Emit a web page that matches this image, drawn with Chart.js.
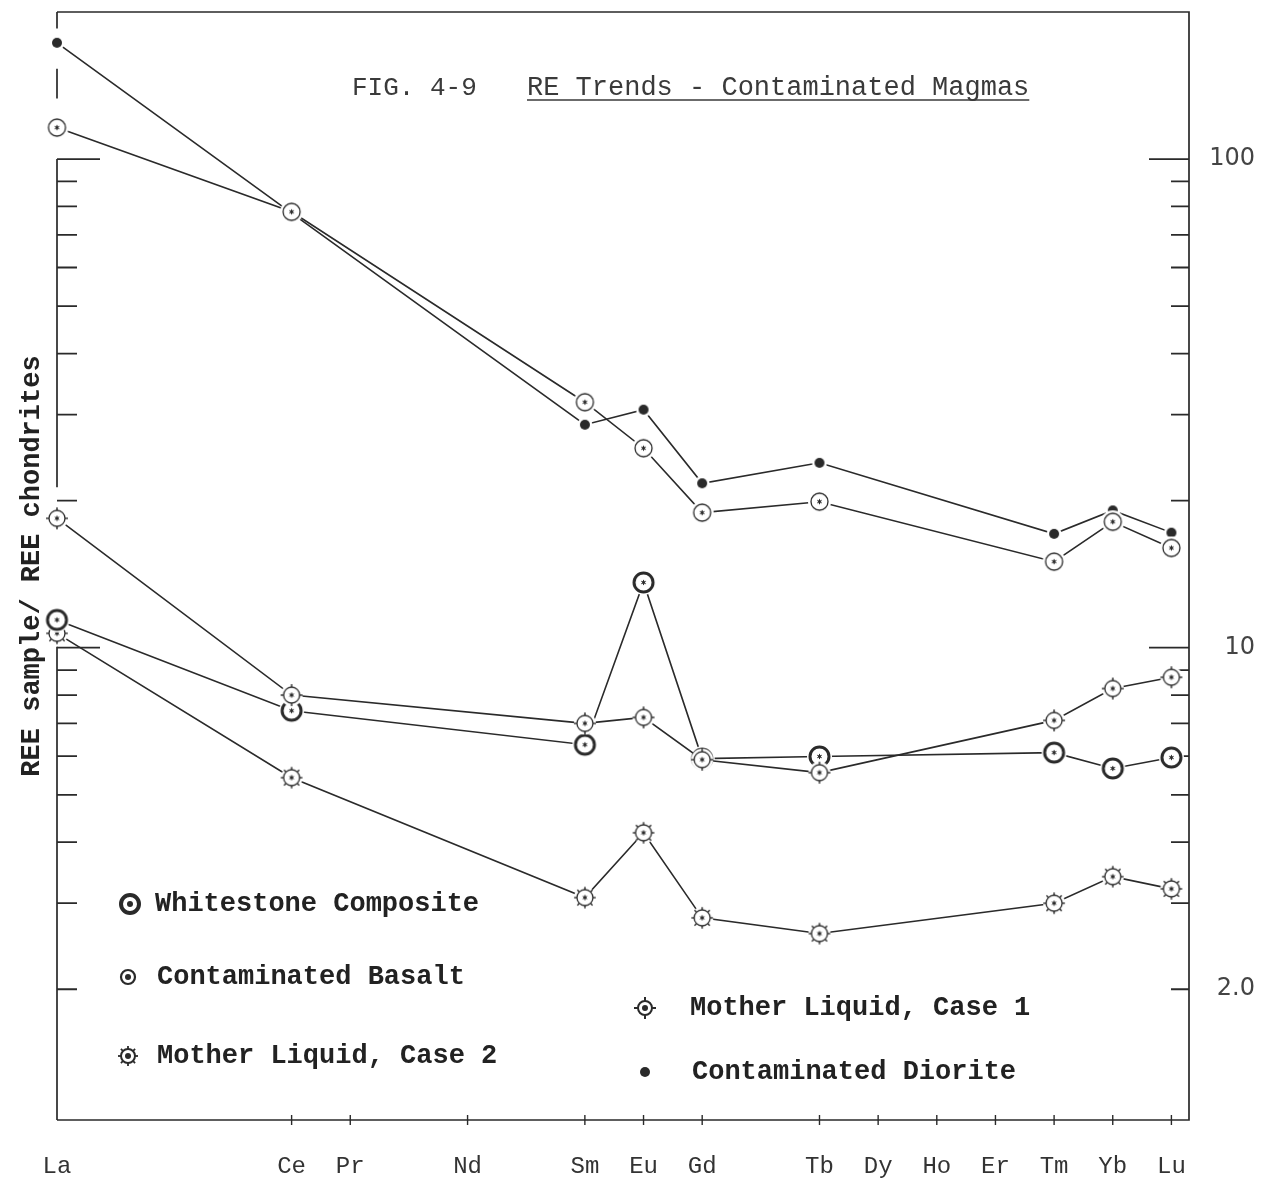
<!DOCTYPE html>
<html>
<head>
<meta charset="utf-8">
<title>RE Trends - Contaminated Magmas</title>
<script src="https://cdn.jsdelivr.net/npm/chart.js@4.4.1/dist/chart.umd.min.js"></script>
<style>
  html, body { margin: 0; padding: 0; background: #fff; }
  canvas { display: block; }
</style>
</head>
<body>
<canvas id="ree" width="1278" height="1186"></canvas>
<script>
// Slots along the horizontal axis; empty strings are spacing slots without a tick
const axisSlots = ['La', '', '', '', 'Ce', 'Pr', '', 'Nd', '', 'Sm', 'Eu', 'Gd', '', 'Tb', 'Dy', 'Ho', 'Er', 'Tm', 'Yb', 'Lu'];

// Elements that were analysed
const elements = ['La', 'Ce', 'Sm', 'Eu', 'Gd', 'Tb', 'Tm', 'Yb', 'Lu'];

// REE sample / REE chondrites
const contaminatedBasalt  = [116, 78, 31.8, 25.6, 18.9, 19.9, 15.0, 18.1, 16.0];
const contaminatedDiorite = [173, 77.5, 28.6, 30.7, 21.7, 23.9, 17.1, 19.1, 17.2];
const motherLiquidCase1   = [18.4, 8.0, 7.0, 7.2, 5.9, 5.55, 7.1, 8.25, 8.7];
const whitestoneComposite = [11.4, 7.43, 6.33, 13.6, 5.93, 5.99, 6.1, 5.66, 5.96];
const motherLiquidCase2   = [10.7, 5.42, 3.08, 4.18, 2.80, 2.60, 3.00, 3.40, 3.21];

// Logarithmic axis tick values and the labels printed on the right
const yTickValues = [2, 3, 4, 5, 6, 7, 8, 9, 10, 20, 30, 40, 50, 60, 70, 80, 90, 100];
const yTickLabels = { 100: '100', 10: '10', 2: '2.0' };

const INK = '#2a2a2a';
const TYPE = '"Liberation Mono", "Courier New", monospace';

// ---- marker symbols -------------------------------------------------------
function markerCanvas(r, halo, draw) {
  const size = Math.ceil((r + 7) * 2);
  const c = document.createElement('canvas');
  c.width = c.height = size;
  const g = c.getContext('2d');
  g.translate(size / 2, size / 2);
  if (halo) {
    g.fillStyle = '#fff';
    g.beginPath(); g.arc(0, 0, r + halo, 0, Math.PI * 2); g.fill();
  }
  g.strokeStyle = INK; g.fillStyle = INK;
  draw(g, r);
  return c;
}
function ring(g, r, w) { g.lineWidth = w; g.beginPath(); g.arc(0, 0, r, 0, Math.PI * 2); g.stroke(); }
function dot(g, r) { g.beginPath(); g.arc(0, 0, r, 0, Math.PI * 2); g.fill(); }
function spikes(g, r, n, len, w, start) {
  g.lineWidth = w;
  for (let i = 0; i < n; i++) {
    const a = (start || 0) + i * 2 * Math.PI / n;
    g.beginPath();
    g.moveTo(Math.cos(a) * r, Math.sin(a) * r);
    g.lineTo(Math.cos(a) * (r + len), Math.sin(a) * (r + len));
    g.stroke();
  }
}
function asterisk(g, r) { spikes(g, 0, 6, r, 1, Math.PI / 2); dot(g, r * 0.55); }

const symbols = {
  basalt:     markerCanvas(8.5, 3, (g, r) => { ring(g, r, 1.3); asterisk(g, 2.6); }),
  diorite:    markerCanvas(5, 2.5, (g, r) => { dot(g, r); }),
  case1:      markerCanvas(8, 3, (g, r) => { ring(g, r, 1.3); spikes(g, r, 4, 3, 1.4, -Math.PI / 2); asterisk(g, 2.6); }),
  whitestone: markerCanvas(9.5, 3, (g, r) => { ring(g, r, 3); asterisk(g, 2.6); }),
  case2:      markerCanvas(8, 3, (g, r) => { ring(g, r, 1.3); spikes(g, r, 8, 2.8, 1.4, -Math.PI / 2); asterisk(g, 2.6); })
};
const legendSymbols = {
  whitestone: markerCanvas(9, 0, (g, r) => { ring(g, r, 4); dot(g, 3); }),
  basalt:     markerCanvas(7, 0, (g, r) => { ring(g, r, 2.2); dot(g, 3); }),
  case2:      markerCanvas(7, 0, (g, r) => { ring(g, r, 2); spikes(g, r, 8, 3, 1.8, -Math.PI / 2); dot(g, 3); }),
  case1:      markerCanvas(7, 0, (g, r) => { ring(g, r, 2); spikes(g, r, 4, 4, 2, -Math.PI / 2); dot(g, 3); }),
  diorite:    markerCanvas(5, 0, (g, r) => { dot(g, r); })
};

// ---- datasets -------------------------------------------------------------
function toPoints(values) {
  return elements.map((el, i) => ({ x: axisSlots.indexOf(el), y: values[i] }));
}
function series(label, values, key, order) {
  return {
    label,
    data: toPoints(values),
    symbolKey: key,
    order,
    borderColor: INK,
    borderWidth: 1.6,
    pointStyle: symbols[key],
    pointRadius: 9,
    tension: 0,
    clip: false,
    yAxisID: 'y'
  };
}
const datasets = [
  series('Whitestone Composite', whitestoneComposite, 'whitestone', 1),
  series('Contaminated Basalt', contaminatedBasalt, 'basalt', 2),
  series('Mother Liquid, Case 2', motherLiquidCase2, 'case2', 3),
  series('Mother Liquid, Case 1', motherLiquidCase1, 'case1', 0),
  series('Contaminated Diorite', contaminatedDiorite, 'diorite', 4)
];

// ---- frame, inward ticks, title and legend ---------------------------------
const framePlugin = {
  id: 'frame',
  beforeDatasetsDraw(chart, args, opts) {
    const { ctx, chartArea: a, scales } = chart;
    const y = scales.y, x = scales.x;
    ctx.save();
    ctx.strokeStyle = INK;
    ctx.lineWidth = 1.7;
    ctx.beginPath();
    ctx.moveTo(a.left, a.top); ctx.lineTo(a.right, a.top);
    ctx.lineTo(a.right, a.bottom); ctx.lineTo(a.left, a.bottom);
    ctx.stroke();
    // left border is drawn in pieces
    ctx.beginPath();
    opts.leftSpans.forEach(([lo, hi]) => {
      ctx.moveTo(a.left, y.getPixelForValue(hi));
      ctx.lineTo(a.left, y.getPixelForValue(lo));
    });
    ctx.stroke();
    // inward tick marks on both vertical axes
    ctx.lineWidth = 1.8;
    yTickValues.forEach(v => {
      const py = y.getPixelForValue(v);
      const major = (v === 10 || v === 100);
      ctx.beginPath();
      ctx.moveTo(a.left, py); ctx.lineTo(a.left + (major ? 43 : 20), py);
      ctx.moveTo(a.right, py); ctx.lineTo(a.right - (major ? 40 : 18), py);
      ctx.stroke();
    });
    // small crossing ticks on the element axis
    ctx.lineWidth = 1.4;
    axisSlots.forEach((name, i) => {
      if (!name || i === 0) return;
      const px = x.getPixelForValue(i);
      ctx.beginPath();
      ctx.moveTo(px, a.bottom - 5); ctx.lineTo(px, a.bottom + 5);
      ctx.stroke();
    });
    ctx.restore();
  },
  afterDraw(chart, args, opts) {
    const { ctx } = chart;
    ctx.save();
    ctx.fillStyle = '#3a3a3a';
    ctx.textBaseline = 'alphabetic';
    // heading
    ctx.font = '26px ' + TYPE;
    ctx.fillText(opts.figure, opts.titleX, opts.titleY);
    ctx.font = '27px ' + TYPE;
    const headX = opts.headingX;
    ctx.fillText(opts.heading, headX, opts.titleY);
    const w = ctx.measureText(opts.heading).width;
    ctx.strokeStyle = '#3a3a3a';
    ctx.lineWidth = 1.6;
    ctx.beginPath();
    ctx.moveTo(headX, opts.titleY + 5); ctx.lineTo(headX + w, opts.titleY + 5);
    ctx.stroke();
    // legend
    ctx.fillStyle = '#222';
    ctx.font = 'bold 27px ' + TYPE;
    ctx.textBaseline = 'middle';
    opts.legend.forEach(item => {
      const ds = chart.data.datasets[item.index];
      const sym = legendSymbols[ds.symbolKey];
      ctx.drawImage(sym, item.mx - sym.width / 2, item.my - sym.height / 2);
      ctx.fillText(ds.label, item.tx, item.my);
    });
    ctx.restore();
  }
};

new Chart(document.getElementById('ree'), {
  type: 'line',
  data: { datasets },
  plugins: [framePlugin],
  options: {
    responsive: false,
    devicePixelRatio: 1,
    animation: false,
    events: [],
    layout: { padding: { top: 12, left: 0, right: 23, bottom: 0 } },
    plugins: {
      legend: { display: false },
      tooltip: { enabled: false },
      frame: {
        figure: 'FIG. 4-9',
        heading: 'RE Trends - Contaminated Magmas',
        titleX: 352,
        headingX: 527,
        titleY: 95,
        leftSpans: [[185, 200], [133, 153], [21.3, 100], [1.08, 10.05]],
        legend: [
          { index: 0, mx: 130, my: 904, tx: 155 },
          { index: 1, mx: 128, my: 977, tx: 157 },
          { index: 2, mx: 128, my: 1056, tx: 157 },
          { index: 3, mx: 645, my: 1008, tx: 690 },
          { index: 4, mx: 645, my: 1072, tx: 692 }
        ]
      }
    },
    scales: {
      x: {
        type: 'linear',
        min: 0,
        max: 19.3,
        grid: { display: false, drawTicks: false },
        border: { display: false },
        afterBuildTicks(scale) {
          scale.ticks = axisSlots
            .map((name, i) => ({ value: i, name }))
            .filter(t => t.name)
            .map(t => ({ value: t.value }));
        },
        afterFit(scale) {
          scale.height = 66;
          scale.paddingLeft = 0; scale.paddingRight = 0;
        },
        ticks: {
          autoSkip: false,
          maxRotation: 0,
          padding: 32,
          color: '#333',
          font: { family: TYPE, size: 24 },
          callback: v => axisSlots[v] || ''
        }
      },
      y: {
        type: 'logarithmic',
        position: 'left',
        min: 1.08,
        max: 200,
        grid: { display: false, drawTicks: false },
        border: { display: false },
        ticks: { display: false },
        afterFit(scale) {
          scale.width = 57;
          scale.paddingTop = 0; scale.paddingBottom = 0;
        },
        title: {
          display: true,
          text: 'REE sample/ REE chondrites',
          color: '#222',
          font: { family: TYPE, size: 27, weight: 'bold' },
          padding: { top: 16, bottom: 0 }
        }
      },
      y2: {
        type: 'logarithmic',
        position: 'right',
        min: 1.08,
        max: 200,
        grid: { display: false, drawTicks: false },
        border: { display: false },
        afterBuildTicks(scale) { scale.ticks = yTickValues.map(v => ({ value: v })); },
        afterFit(scale) {
          scale.width = 66;
          scale.paddingTop = 0; scale.paddingBottom = 0;
        },
        ticks: {
          autoSkip: false,
          padding: 16,
          crossAlign: 'far',
          color: '#444',
          font: { family: '"DejaVu Sans", sans-serif', size: 24 },
          callback: v => yTickLabels[v] || ''
        }
      }
    }
  }
});
</script>
</body>
</html>
